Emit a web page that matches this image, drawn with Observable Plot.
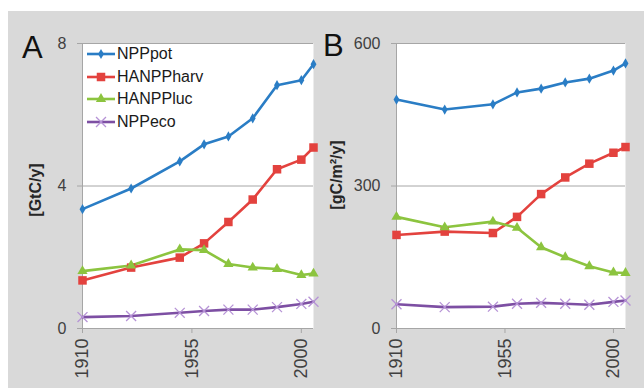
<!DOCTYPE html>
<html>
<head>
<meta charset="utf-8">
<script src="https://cdn.jsdelivr.net/npm/d3@7"></script>
<script src="https://cdn.jsdelivr.net/npm/@observablehq/plot@0.6"></script>
<style>
  html, body { margin: 0; padding: 0; background: #ffffff; }
  body { width: 644px; height: 388px; position: relative; overflow: hidden; font-family: "Liberation Sans", Arial, sans-serif; }
  #fig { position: absolute; left: 8px; top: 11px; width: 636px; height: 377px; background: #d9d9d9; }
  #panelA { position: absolute; left: 0; top: 0; }
  #panelB { position: absolute; left: 314px; top: 0; }
  #overlay { position: absolute; left: 0; top: 0; pointer-events: none; }
  #legend { position: absolute; left: 78px; top: 32px; }
  .lrow { display: flex; align-items: center; height: 22.5px; }
  .lrow span { font-size: 16px; color: #1a1a1a; margin-left: 1px; }
</style>
</head>
<body>
<div id="fig">
  <div id="panelA"></div>
  <div id="panelB"></div>
  <div id="legend"></div>
  <svg id="overlay" width="636" height="377"></svg>
</div>
<script>
// ---- data ----
const years = [1910, 1930, 1950, 1960, 1970, 1980, 1990, 2000, 2005];
const seriesNames = ["NPPpot", "HANPPharv", "HANPPluc", "NPPeco"];

// Panel A: GtC/y
const nppPotA     = [3.35, 3.93, 4.69, 5.17, 5.39, 5.90, 6.83, 6.97, 7.42];
const hanppHarvA  = [1.35, 1.71, 1.99, 2.39, 2.99, 3.62, 4.47, 4.74, 5.08];
const hanppLucA   = [1.61, 1.77, 2.22, 2.20, 1.81, 1.71, 1.67, 1.50, 1.54];
const nppEcoA     = [0.32, 0.35, 0.44, 0.49, 0.53, 0.53, 0.60, 0.69, 0.75];

// Panel B: gC/m2/y
const nppPotB     = [482, 461, 472, 497, 505, 518, 526, 543, 558];
const hanppHarvB  = [197, 204, 201, 235, 283, 318, 347, 370, 382];
const hanppLucB   = [235, 213, 225, 212, 171, 150, 131, 118, 117];
const nppEcoB     = [51, 45, 46, 52, 54, 52, 50, 56, 59];

const yTicksA = [0, 4, 8];
const yTicksB = [0, 300, 600];
const xTicks = [1910, 1955, 2000];
const panelLabels = ["A", "B"];
const yTitles = ["[GtC/y]", "[gC/m²/y]"];

// ---- styles ----
const styles = {
  NPPpot:    {line: "#2a7dc5", marker: "#2a7dc5", symbol: "diamond", r: 3.1},
  HANPPharv: {line: "#e3423e", marker: "#e3423e", symbol: "square", r: 4.8},
  HANPPluc:  {line: "#8cc43f", marker: "#8cc43f", symbol: "triangle", r: 3.8},
  NPPeco:    {line: "#7d4fa3", marker: "#b693d6", symbol: "times", r: 4.6}
};
const gridColor = "#a6a6a6";
const textColor = "#404040";

function toRows(valueArrays) {
  const rows = [];
  seriesNames.forEach((name, k) => {
    years.forEach((yr, i) => rows.push({year: yr, value: valueArrays[k][i], series: name}));
  });
  return rows;
}

function panel({values, ticks, width, marginRight}) {
  const rows = toRows(values);
  const marks = [
    Plot.frame({fill: "white", stroke: null}),
    Plot.ruleY(ticks.slice(1), {stroke: gridColor, strokeWidth: 1}),
    Plot.ruleX([1910], {stroke: gridColor, strokeWidth: 1}),
    Plot.ruleY([0], {stroke: gridColor, strokeWidth: 1}),
    Plot.axisY({ticks, tickSize: 5, tickPadding: 11, fontSize: 16, stroke: gridColor, fill: textColor, label: null, tickFormat: d => String(d)}),
    Plot.axisX({ticks: xTicks, tickSize: 5, tickPadding: 5, fontSize: 18, tickRotate: -90, stroke: gridColor, fill: textColor, label: null, tickFormat: d => String(d)})
  ];
  for (const name of seriesNames) {
    const s = styles[name];
    const data = rows.filter(d => d.series === name);
    marks.push(Plot.line(data, {x: "year", y: "value", stroke: s.line, strokeWidth: 2.6}));
  }
  for (const name of seriesNames) {
    const s = styles[name];
    const data = rows.filter(d => d.series === name);
    if (s.symbol === "times") {
      marks.push(Plot.dot(data, {x: "year", y: "value", symbol: "times", r: s.r, stroke: s.marker, strokeWidth: 1.3}));
    } else {
      marks.push(Plot.dot(data, {x: "year", y: "value", symbol: s.symbol, r: s.r, fill: s.marker, stroke: null}));
    }
  }
  return Plot.plot({
    width, height: 377,
    marginLeft: 74, marginRight, marginTop: 32, marginBottom: 60,
    style: {background: "transparent", fontFamily: "'Liberation Sans', Arial, sans-serif", overflow: "visible"},
    x: {domain: [1910, 2005]},
    y: {domain: [ticks[0], ticks[ticks.length - 1]]},
    marks
  });
}

document.getElementById("panelA").appendChild(
  panel({values: [nppPotA, hanppHarvA, hanppLucA, nppEcoA], ticks: yTicksA, width: 314, marginRight: 9}));
document.getElementById("panelB").appendChild(
  panel({values: [nppPotB, hanppHarvB, hanppLucB, nppEcoB], ticks: yTicksB, width: 322, marginRight: 19}));

// ---- legend ----
const symMap = {diamond: d3.symbolDiamond, square: d3.symbolSquare, triangle: d3.symbolTriangle, times: d3.symbolTimes};
const legend = d3.select("#legend");
seriesNames.forEach(name => {
  const s = styles[name];
  const row = legend.append("div").attr("class", "lrow");
  const svg = row.append("svg").attr("width", 30).attr("height", 20);
  svg.append("line").attr("x1", 1).attr("x2", 29).attr("y1", 10).attr("y2", 10)
    .attr("stroke", s.line).attr("stroke-width", 2.6);
  const path = svg.append("path")
    .attr("transform", "translate(15,10)")
    .attr("d", d3.symbol(symMap[s.symbol], Math.PI * s.r * s.r)());
  if (s.symbol === "times") path.attr("fill", "none").attr("stroke", s.marker).attr("stroke-width", 1.3);
  else path.attr("fill", s.marker);
  row.append("span").text(name);
});

// ---- panel letters and y titles ----
const ov = d3.select("#overlay");
ov.append("text").attr("x", 14).attr("y", 47).attr("font-size", 31).attr("fill", "#111")
  .attr("font-family", "'Liberation Sans', Arial, sans-serif").text(panelLabels[0]);
ov.append("text").attr("x", 315).attr("y", 45).attr("font-size", 31).attr("fill", "#111")
  .attr("font-family", "'Liberation Sans', Arial, sans-serif").text(panelLabels[1]);
ov.append("text").attr("transform", "translate(27,179) rotate(-90)").attr("text-anchor", "middle")
  .attr("font-size", 16).attr("font-weight", "bold").attr("fill", "#262626")
  .attr("font-family", "'Liberation Sans', Arial, sans-serif").attr("dominant-baseline", "central").text(yTitles[0]);
ov.append("text").attr("transform", "translate(328,164) rotate(-90)").attr("text-anchor", "middle")
  .attr("font-size", 16).attr("font-weight", "bold").attr("fill", "#262626")
  .attr("font-family", "'Liberation Sans', Arial, sans-serif").attr("dominant-baseline", "central").text(yTitles[1]);
</script>
</body>
</html>
